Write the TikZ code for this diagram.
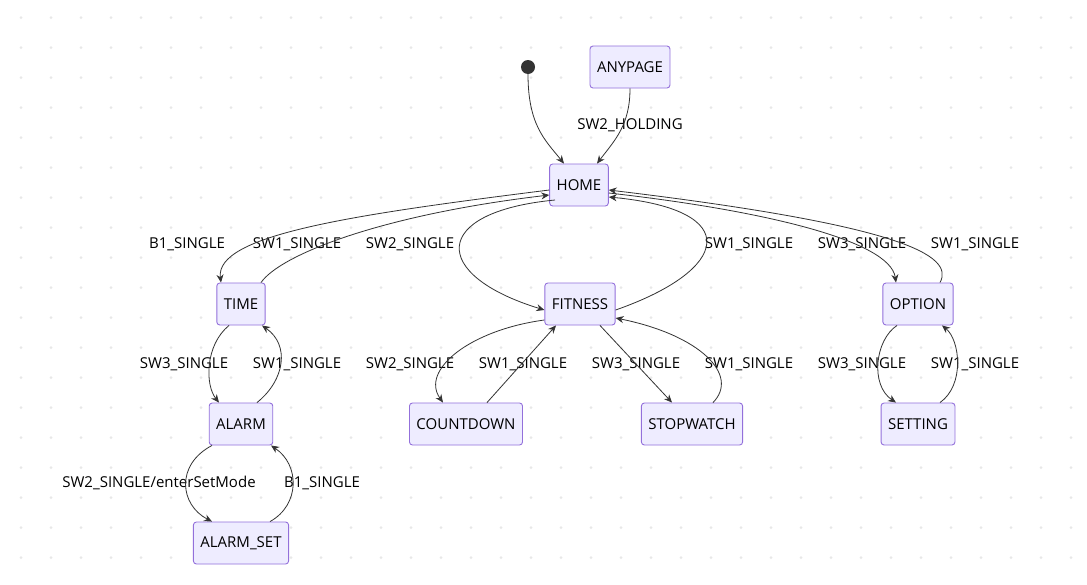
\documentclass[tikz,border=0pt]{standalone}
\usepackage{fontspec}
\setmainfont{Open Sans}
\usetikzlibrary{arrows.meta}
\definecolor{stfill}{RGB}{238,236,255}
\definecolor{stline}{RGB}{147,112,219}
\definecolor{edge}{RGB}{51,51,51}
\definecolor{griddot}{RGB}{232,232,232}
\begin{document}
\begin{tikzpicture}[x=1pt,y=-1pt,
    state/.style={draw=stline, fill=stfill, rounded corners=3pt, line width=0.9pt,
      minimum height=42pt, inner xsep=7pt, font=\fontsize{15}{17}\selectfont},
    lbl/.style={font=\fontsize{15}{17}\selectfont, inner sep=1pt},
    arr/.style={edge, line width=0.8pt, -{Stealth[length=8pt,width=7pt]}}]
    \useasboundingbox (0,0) rectangle (1087,584);
    \fill[white] (0,0) rectangle (1087,584);
    % dot grid
    \foreach \x in {0,...,35}
      \foreach \y in {0,...,18}
        \fill[griddot] ({21+30*\x},{17.7+30*\y}) circle (1.5pt);
    % states
    \fill[edge] (528,67) circle (7pt) coordinate (start);
    \node[state] (anypage) at (630,67) {ANYPAGE};
    \node[state] (home) at (579,185) {HOME};
    \node[state] (time) at (241,304) {TIME};
    \node[state] (fitness) at (580,304) {FITNESS};
    \node[state] (option) at (918,304) {OPTION};
    \node[state] (alarm) at (241,424) {ALARM};
    \node[state] (countdown) at (466,424) {COUNTDOWN};
    \node[state] (stopwatch) at (692,424) {STOPWATCH};
    \node[state] (setting) at (918,424) {SETTING};
    \node[state] (alarmset) at (241,543) {ALARM\_SET};
    % labels
    \node[lbl] (l1) at (630,125) {SW2\_HOLDING};
    \node[lbl] (l2) at (187,244) {B1\_SINGLE};
    \node[lbl] (l3) at (297,244) {SW1\_SINGLE};
    \node[lbl] (l4) at (410,244) {SW2\_SINGLE};
    \node[lbl] (l5) at (749,244) {SW1\_SINGLE};
    \node[lbl] (l6) at (862,244) {SW3\_SINGLE};
    \node[lbl] (l7) at (975,244) {SW1\_SINGLE};
    \node[lbl] (l8) at (184,364) {SW3\_SINGLE};
    \node[lbl] (l9) at (297,364) {SW1\_SINGLE};
    \node[lbl] (l10) at (410,364) {SW2\_SINGLE};
    \node[lbl] (l11) at (523,364) {SW1\_SINGLE};
    \node[lbl] (l12) at (636,364) {SW3\_SINGLE};
    \node[lbl] (l13) at (749,364) {SW1\_SINGLE};
    \node[lbl] (l14) at (862,364) {SW3\_SINGLE};
    \node[lbl] (l15) at (975,364) {SW1\_SINGLE};
    \node[lbl] (l16) at (159,483) {SW2\_SINGLE/enterSetMode};
    \node[lbl] (l17) at (322,483) {B1\_SINGLE};
    % transitions
    \draw[arr] (528,74) .. controls (528,125) and (545,140) .. ([xshift=-15pt]home.north);
    \draw[arr] (anypage.south) .. controls (630,125) and (615,140) .. ([xshift=18pt]home.north);
    \draw[arr] ([yshift=-5pt]home.west) .. controls (350,215) and (215,235) .. ([xshift=-20pt]time.north);
    \draw[arr] ([xshift=20pt]time.north) .. controls (280,255) and (380,215) .. ([yshift=-10pt]home.west);
    \draw[arr] ([xshift=-24pt,yshift=-15pt]home.center) .. controls (430,212) and (430,275) .. ([yshift=-6pt]fitness.west);
    \draw[arr] ([yshift=-6pt]fitness.east) .. controls (730,270) and (745,210) .. ([yshift=-12pt]home.east);
    \draw[arr] ([yshift=-8pt]home.east) .. controls (760,210) and (890,240) .. ([xshift=-22pt]option.north);
    \draw[arr] ([xshift=22pt]option.north) .. controls (955,255) and (900,225) .. ([yshift=-5pt]home.east);
    \draw[arr] ([xshift=-12pt]time.south) .. controls (205,345) and (205,385) .. ([xshift=-22pt]alarm.north);
    \draw[arr] ([xshift=16pt]alarm.north) .. controls (285,380) and (290,345) .. ([xshift=21pt]time.south);
    \draw[arr] ([yshift=-16pt]fitness.west) .. controls (470,330) and (420,370) .. ([xshift=-23pt]countdown.north);
    \draw[arr] ([xshift=21pt]countdown.north) -- ([xshift=-24pt]fitness.south);
    \draw[arr] ([xshift=20pt]fitness.south) -- ([xshift=-20pt]stopwatch.north);
    \draw[arr] ([xshift=21pt]stopwatch.north) .. controls (740,375) and (700,335) .. ([yshift=-14pt]fitness.east);
    \draw[arr] ([xshift=-21pt]option.south) .. controls (875,340) and (870,385) .. ([xshift=-22pt]setting.north);
    \draw[arr] ([xshift=22pt]setting.north) .. controls (965,385) and (960,340) .. ([xshift=24pt]option.south);
    \draw[arr] ([xshift=-29pt]alarm.south) .. controls (175,465) and (180,505) .. ([xshift=-29pt]alarmset.north);
    \draw[arr] ([xshift=29pt]alarmset.north) .. controls (300,505) and (300,465) .. ([xshift=30pt]alarm.south);
\end{tikzpicture}
\end{document}
